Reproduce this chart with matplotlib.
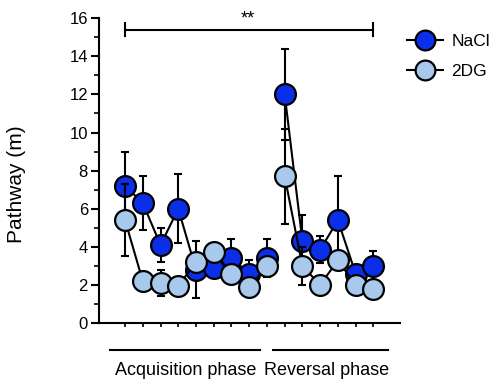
import numpy as np
import matplotlib
matplotlib.use("Agg")
import matplotlib.pyplot as plt
from matplotlib.ticker import MultipleLocator

plt.rcParams['font.family'] = ['Liberation Sans', 'DejaVu Sans']

# session index: 1-9 acquisition, 10-15 reversal
acq_x = [1, 2, 3, 4, 5, 6, 7, 8, 9]
rev_x = [10, 11, 12, 13, 14, 15]

nacl_acq = [7.2, 6.3, 4.1, 6.0, 2.8, 2.9, 3.4, 2.6, 3.4]
nacl_acq_err = [1.8, 1.4, 0.9, 1.8, 1.5, 0.4, 1.0, 0.7, 1.0]
nacl_rev = [12.0, 4.3, 3.85, 5.4, 2.6, 3.0]
nacl_rev_err = [2.4, 1.4, 0.7, 2.3, 0.3, 0.8]

dg_acq = [5.4, 2.2, 2.1, 1.95, 3.2, 3.75, 2.6, 1.9, 3.0]
dg_acq_err = [1.9, 0.3, 0.7, 0.3, 0.5, 0.3, 0.4, 0.4, 0.4]
dg_rev = [7.7, 3.0, 2.0, 3.3, 2.0, 1.8]
dg_rev_err = [2.5, 1.0, 0.3, 0.5, 0.3, 0.3]

nacl_col = '#0b2ee8'
dg_col = '#a9c9ec'

fig = plt.figure(figsize=(4.95, 3.87), dpi=100)
ax = fig.add_axes([0.2, 0.165, 0.608, 0.788])

def draw(xs, ys, es, col, z, label=None):
    ax.errorbar(xs, ys, yerr=es, fmt='none', ecolor='black', elinewidth=1.5,
                capsize=3, capthick=1.5, zorder=z)
    ax.plot(xs, ys, '-', color='black', lw=1.5, marker='o', markersize=15,
            markerfacecolor=col, markeredgecolor='black', markeredgewidth=1.6,
            zorder=z + 0.5, label=label)

draw(acq_x, nacl_acq, nacl_acq_err, nacl_col, 2, 'NaCl')
draw(rev_x, nacl_rev, nacl_rev_err, nacl_col, 2)
draw(acq_x, dg_acq, dg_acq_err, dg_col, 3, '2DG')
draw(rev_x, dg_rev, dg_rev_err, dg_col, 3)

ax.set_xlim(-0.47, 16.5)
ax.set_ylim(0, 16)
ax.spines['top'].set_visible(False)
ax.spines['right'].set_visible(False)
ax.spines['left'].set_linewidth(1.5)
ax.spines['bottom'].set_linewidth(1.5)
ax.set_xticks(acq_x + rev_x)
ax.set_xticklabels([])
ax.tick_params(axis='x', length=3, width=1.2)
ax.yaxis.set_major_locator(MultipleLocator(2))
ax.yaxis.set_minor_locator(MultipleLocator(1))
ax.tick_params(axis='y', which='major', length=6, width=1.5, labelsize=12, pad=2)
ax.tick_params(axis='y', which='minor', length=3.5, width=1.2)
fig.text(16.5 / 495, 0.525, 'Pathway (m)', rotation=90, ha='center', va='center',
         fontsize=15)

# significance bar
ax.plot([1, 15], [15.4, 15.4], color='black', lw=1.5, clip_on=False)
ax.plot([1, 1], [15.05, 15.75], color='black', lw=1.5, clip_on=False)
ax.plot([15, 15], [15.05, 15.75], color='black', lw=1.5, clip_on=False)
ax.text(7.9, 15.5, '**', ha='center', va='bottom', fontsize=13)

# phase labels
ax.plot([0.15, 8.61], [-1.43, -1.43], color='black', lw=1.5, clip_on=False)
ax.plot([9.34, 15.82], [-1.43, -1.43], color='black', lw=1.5, clip_on=False)
ax.text(4.41, -2.05, 'Acquisition phase', ha='center', va='top', fontsize=13)
ax.text(12.35, -2.05, 'Reversal phase', ha='center', va='top', fontsize=13)

fig.legend(loc='upper left', bbox_to_anchor=(407 / 495, 1 - 34 / 387),
           bbox_transform=fig.transFigure, frameon=False,
           fontsize=12.5, markerscale=0.95, handlelength=2.1, handletextpad=0.45,
           labelspacing=0.85, borderaxespad=0, borderpad=0)

fig.savefig('out.png', dpi=100)
